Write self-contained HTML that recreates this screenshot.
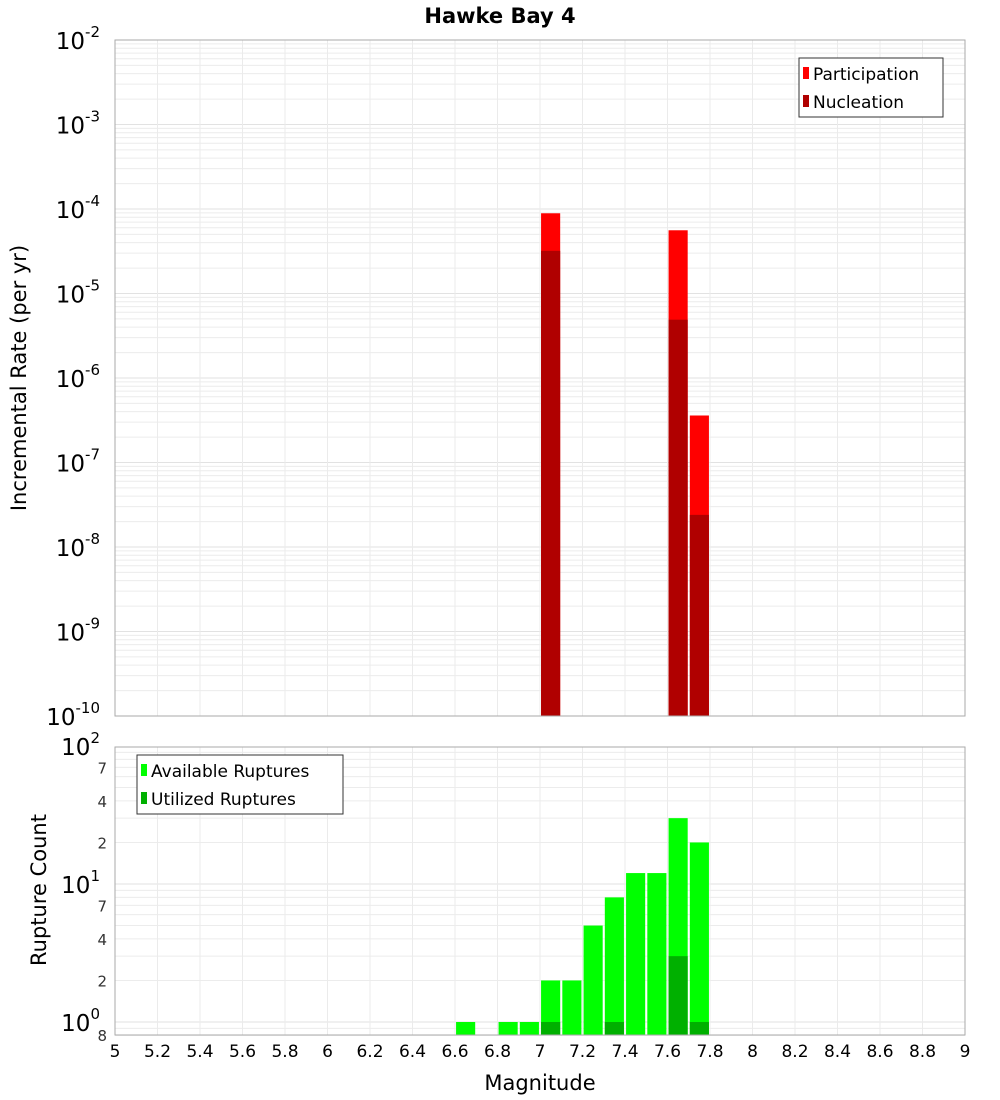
<!DOCTYPE html>
<html><head><meta charset="utf-8"><style>body{margin:0;background:#fff;position:relative}svg{display:block;font-family:"DejaVu Sans","Liberation Sans",sans-serif}</style></head>
<body>
<svg id="c" width="1000" height="1100" xmlns="http://www.w3.org/2000/svg">
<text x="500" y="23" text-anchor="middle" font-size="21" font-weight="bold">Hawke Bay 4</text>
<g id="gtop"></g><g id="gbot"></g>
</svg>
<script>
const mags=[6.65,6.85,6.95,7.05,7.15,7.25,7.35,7.45,7.55,7.65,7.75];
const topMags=[7.05,7.65,7.75];
const participation=[8.9e-5,5.6e-5,3.6e-7];
const nucleation=[3.2e-5,4.9e-6,2.4e-8];
const available=[1,1,1,2,2,5,8,12,12,30,20];
const utilizedMags=[7.05,7.35,7.65,7.75];
const utilized=[1,1,3,1];
const xTicks=[5,5.2,5.4,5.6,5.8,6,6.2,6.4,6.6,6.8,7,7.2,7.4,7.6,7.8,8,8.2,8.4,8.6,8.8,9];
const topExps=[-10,-9,-8,-7,-6,-5,-4,-3,-2];
const botExps=[0,1,2];
const botMinor=[2,4,7];

const NS="http://www.w3.org/2000/svg";
const X0=115,X1=965;
const xs=m=>X0+(m-5)/4*(X1-X0);
const T0=40,T1=716,B0=747,B1=1035;
const yT=v=>T1-(Math.log10(v)+10)/8*(T1-T0);
const bDec=138;
const yB=v=>1022-Math.log10(v)*bDec;
function el(p,t,a,txt){const e=document.createElementNS(NS,t);for(const k in a)e.setAttribute(k,a[k]);if(txt!==undefined)e.textContent=txt;p.appendChild(e);return e;}
const gTop=document.getElementById('gtop'),gBot=document.getElementById('gbot');
const svgRoot=document.getElementById('c');

function grid(g,y0,y1,yfn,exps){
  for(const e of exps){for(let k=1;k<10;k++){const v=k*Math.pow(10,e);const y=yfn(v);if(y<y0-0.5||y>y1+0.5)continue;
    const l=el(g,'line',{x1:X0,x2:X1,y1:y,y2:y,stroke:k==1?'#e2e2e2':'#ececec','stroke-width':1});
    
    }}
  for(const t of xTicks){const x=xs(t);const l=el(g,'line',{x1:x,x2:x,y1:y0,y2:y1,stroke:'#ebebeb','stroke-width':1});
    
    }
}
grid(gTop,T0,T1,yT,[-10,-9,-8,-7,-6,-5,-4,-3]);
grid(gBot,B0,B1,yB,[-1,0,1]);

function bar(g,m,v,yfn,ybase,color,name){const x=xs(m-0.045);const w=xs(m+0.045)-x;const y=yfn(v);
  const r=el(g,'rect',{x:x,y:y,width:w,height:ybase-y,fill:color});
  
  }
topMags.forEach((m,i)=>bar(gTop,m,participation[i],yT,T1,'#ff0000','participation-bar'));
topMags.forEach((m,i)=>bar(gTop,m,nucleation[i],yT,T1,'#b00000','nucleation-bar'));
mags.forEach((m,i)=>bar(gBot,m,available[i],yB,B1,'#00ff00','available-bar'));
utilizedMags.forEach((m,i)=>bar(gBot,m,utilized[i],yB,B1,'#00b000','utilized-bar'));

[[T0,T1,'top-plot-frame'],[B0,B1,'bottom-plot-frame']].forEach(([a,b,n])=>{const r=el(svgRoot,'rect',{x:X0,y:a,width:X1-X0,height:b-a,fill:'none',stroke:'#aaa'});
  
  });

topExps.forEach(e=>{const y=yT(Math.pow(10,e));const t=el(gTop,'text',{x:100,y:y+9,'text-anchor':'end','font-size':23});
  
  
  el(t,'tspan',{},'10');el(t,'tspan',{dy:-12,'font-size':15},String(e));});
botExps.forEach(e=>{const y=yB(Math.pow(10,e));const t=el(gBot,'text',{x:100,y:y+9,'text-anchor':'end','font-size':23});
  
  
  el(t,'tspan',{},'10');el(t,'tspan',{dy:-12,'font-size':15},String(e));});
[0,1].forEach(e=>botMinor.forEach(k=>{const v=k*Math.pow(10,e);const y=yB(v);if(y<B0||y>B1)return;
  const t=el(gBot,'text',{x:107,y:y+6,'text-anchor':'end','font-size':15,fill:'#333'},String(k));
  
  }));
{const t=el(gBot,'text',{x:107,y:1041,'text-anchor':'end','font-size':15,fill:'#333'},'8');

}
xTicks.forEach(v=>{const t=el(gBot,'text',{x:xs(v),y:1057,'text-anchor':'middle','font-size':17},String(v));
  
  });
</script>
<svg style="position:absolute;left:0;top:0" width="1000" height="1100" xmlns="http://www.w3.org/2000/svg">
<text x="540" y="1090" text-anchor="middle" font-size="21">Magnitude</text>
<text transform="translate(26,378) rotate(-90)" text-anchor="middle" font-size="21">Incremental Rate (per yr)</text>
<text transform="translate(46,890) rotate(-90)" text-anchor="middle" font-size="21">Rupture Count</text>
<g font-size="17">
<rect x="799" y="58" width="144" height="59" fill="#fff" stroke="#333"/>
<rect x="803" y="67" width="6" height="12" fill="#ff0000"/><text x="813" y="80">Participation</text>
<rect x="803" y="95" width="6" height="12" fill="#b00000"/><text x="813" y="108">Nucleation</text>
</g>
<g font-size="17">
<rect x="137" y="755" width="206" height="59" fill="#fff" stroke="#333"/>
<rect x="141" y="764" width="6" height="12" fill="#00ff00"/><text x="151" y="777">Available Ruptures</text>
<rect x="141" y="792" width="6" height="12" fill="#00b000"/><text x="151" y="805">Utilized Ruptures</text>
</g>
</svg>
</body></html>
